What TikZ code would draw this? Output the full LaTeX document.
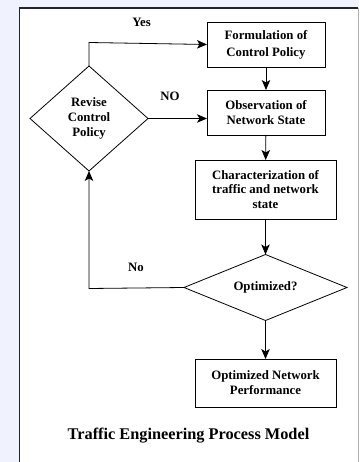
\documentclass[tikz,border=0pt]{standalone}
\usepackage{fontspec}
\setmainfont{Liberation Serif}
\usetikzlibrary{shapes.geometric,arrows.meta}

\definecolor{pageblue}{RGB}{240,243,254}
\definecolor{frameink}{RGB}{35,35,45}

\tikzset{
    stepbox/.style={draw,line width=0.8pt,inner sep=0pt,outer sep=0pt,
        align=center,font=\bfseries\fontsize{12.8}{14.8}\selectfont},
    choice/.style={diamond,draw,line width=0.8pt,inner sep=0pt,outer sep=0pt,
        aspect=2.5,align=center,font=\bfseries\fontsize{12.8}{14.8}\selectfont},
    flow/.style={-{Stealth[length=10pt,width=8.5pt,inset=2.5pt]},line width=0.8pt},
    tag/.style={font=\bfseries\fontsize{12.8}{14.8}\selectfont}
}

\begin{document}
\begin{tikzpicture}[x=1pt,y=-1pt,line cap=butt,line join=miter]
        \useasboundingbox (0,0) rectangle (359,462);
        \fill[pageblue] (0,0) rectangle (359,462);
        \fill[white] (19.5,8) rectangle (358,462);
        \draw[gray!60,line width=1pt] (358,8) -- (358,462);
        \draw[frameink,line width=1.2pt] (19.5,462) -- (19.5,8) -- (358,8);

        \node[stepbox,minimum width=118,minimum height=45,
            font=\bfseries\fontsize{12.8}{17.2}\selectfont]
            (formulate) at (266,44.5) {Formulation of\\Control Policy};
        \node[stepbox,minimum width=118,minimum height=45]
            (observe) at (266,112.5) {Observation of\\Network State};
        \node[stepbox,minimum width=141,minimum height=59]
            (character) at (265.5,189.5) {Characterization of\\traffic and network\\state};
        \node[choice,minimum width=163,minimum height=66]
            (optimized) at (265.5,287.5) {Optimized?};
        \node[stepbox,minimum width=141,minimum height=48]
            (perform) at (265.5,383) {Optimized Network\\Performance};
        \node[choice,aspect=1,minimum width=118,minimum height=105]
            (revise) at (89,118.5) {Revise\\Control\\Policy};

        \coordinate (yesbend) at (89,42.5);
        \coordinate (nobend) at (89,288.5);

        \draw[flow] (formulate) -- (observe);
        \draw[flow] (observe) -- (character);
        \draw[flow] (character) -- (optimized);
        \draw[flow] (optimized) -- (perform);
        \draw[flow] (revise.north) -- (yesbend) -- (formulate.west);
        \draw[flow] (revise.east) -- (revise.east -| observe.west);
        \draw[flow] (optimized.west) -- (nobend) -- (revise.south);

        \node[tag] (yes) at (141.5,22.5) {Yes};
        \node[tag] (nolabel) at (170,96) {NO};
        \node[tag] (notag) at (136,267) {No};
        \node[font=\bfseries\fontsize{16.3}{19}\selectfont]
            (title) at (188.5,436) {Traffic Engineering Process Model};
    \end{tikzpicture}
\end{document}
